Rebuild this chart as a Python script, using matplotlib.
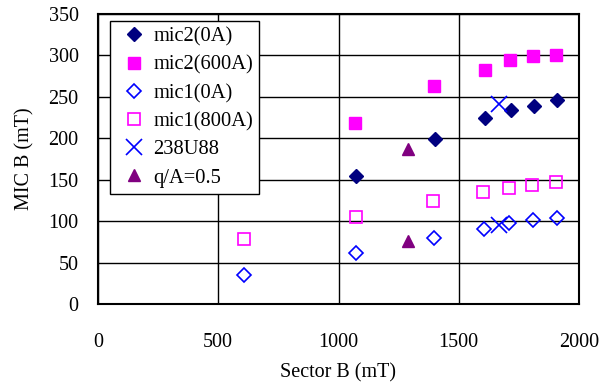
import matplotlib
matplotlib.use('Agg')
import matplotlib.pyplot as plt

plt.rcParams['font.family'] = ['Liberation Serif', 'DejaVu Serif']

# data
mic2_0_x = [1073, 1401, 1609, 1717, 1814, 1907]
mic2_0_y = [154, 199, 224, 234, 239, 246]
mic2_600_x = [1070, 1398, 1608, 1714, 1810, 1906]
mic2_600_y = [218, 263, 283, 294, 299, 301]
mic1_0_x = [608, 1074, 1396, 1604, 1711, 1808, 1909]
mic1_0_y = [35, 62, 80, 90, 98, 101, 104]
mic1_800_x = [606, 1072, 1392, 1601, 1708, 1805, 1904]
mic1_800_y = [79, 105, 124, 135, 140, 144, 147]
u238_x = [1669, 1669]
u238_y = [241, 95]
qa_x = [1288, 1288]
qa_y = [187, 76]

fig = plt.figure(figsize=(6.11, 3.89), dpi=100)
ax = fig.add_axes([98/611, 1-304/389, 481/611, 290/389])

ax.plot(mic2_0_x, mic2_0_y, 'D', color='#000080', ms=7.5, ls='none', label='mic2(0A)')
ax.plot(mic2_600_x, mic2_600_y, 's', color='#FF00FF', ms=8, ls='none', label='mic2(600A)')
ax.plot(mic1_0_x, mic1_0_y, 'D', mfc='none', mec='#0000FF', mew=1.2, ms=7, ls='none', label='mic1(0A)')
ax.plot(mic1_800_x, mic1_800_y, 's', mfc='none', mec='#FF00FF', mew=1.2, ms=8, ls='none', label='mic1(800A)')
ax.plot(u238_x, u238_y, 'x', color='#0000FF', ms=11.5, mew=1.2, ls='none', label='238U88')
ax.plot(qa_x, qa_y, '^', color='#800080', ms=9, ls='none', label='q/A=0.5')

ax.set_xlim(0, 2000)
ax.set_ylim(0, 350)
ax.set_xticks([0, 500, 1000, 1500, 2000])
ax.set_yticks(range(0, 351, 50))
ax.grid(True, color='black', lw=1)
ax.set_axisbelow(True)
ax.tick_params(length=0, labelsize=14.5)
ax.tick_params(axis='x', pad=21)
ax.tick_params(axis='y', pad=14)
for s in ax.spines.values():
    s.set_linewidth(1.5)
    s.set_color('black')

ax.set_xlabel('Sector B (mT)', fontsize=14.5)
ax.set_ylabel('MIC B (mT)', fontsize=14.5)
ax.xaxis.set_label_coords(0.5, -0.205)
ax.yaxis.set_label_coords(-0.132, 0.5)

leg = ax.legend(loc='upper left', bbox_to_anchor=(12/481, 1-7/290), fontsize=14.8,
                frameon=True, fancybox=False, shadow=False, edgecolor='black',
                handletextpad=0.1, handlelength=1.7, labelspacing=0.43,
                borderpad=0.3, borderaxespad=0, framealpha=1)
leg.get_frame().set_linewidth(1)

plt.savefig('out.png', dpi=100)
